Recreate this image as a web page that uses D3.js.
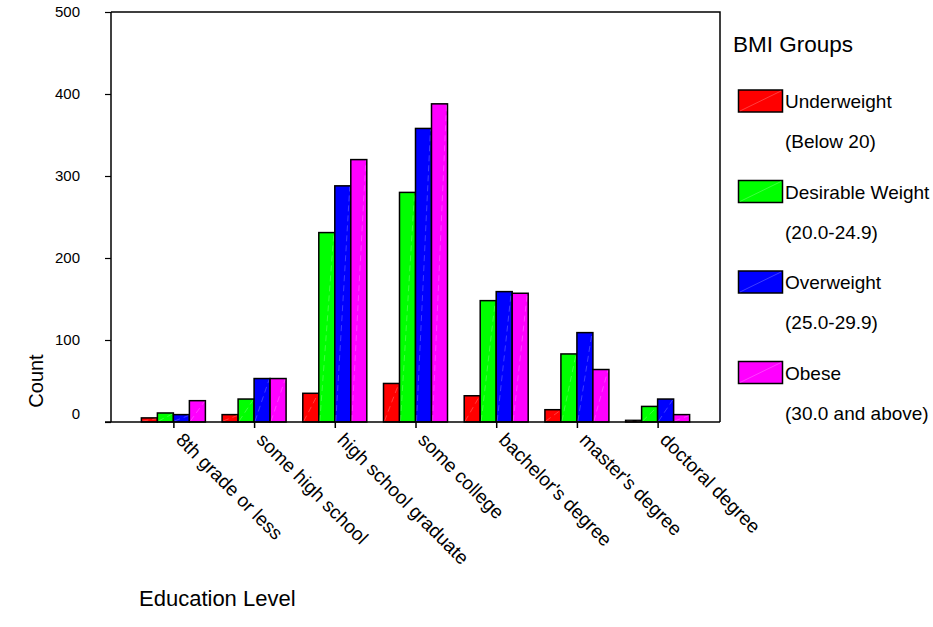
<!DOCTYPE html>
<html>
<head>
<meta charset="utf-8">
<script src="https://cdn.jsdelivr.net/npm/d3@7"></script>
<style>
  html, body { margin: 0; padding: 0; background: #fff; }
  svg { display: block; font-family: "Liberation Sans", Arial, sans-serif; }
</style>
</head>
<body>
<svg id="chart" width="933" height="627"></svg>
<script>
const categories = ["8th grade or less", "some high school", "high school graduate", "some college", "bachelor's degree", "master's degree", "doctoral degree"];
const seriesNames = ["Underweight", "Desirable Weight", "Overweight", "Obese"];
const seriesSub = ["(Below 20)", "(20.0-24.9)", "(25.0-29.9)", "(30.0 and above)"];
const underweight = [5, 9, 35, 47, 32, 15, 2];
const desirable = [11, 28, 231, 280, 148, 83, 19];
const overweight = [9, 53, 288, 358, 159, 109, 28];
const obese = [26, 53, 320, 388, 157, 64, 9];
const yTicks = [0, 100, 200, 300, 400, 500];
const colors = ["#ff0000", "#00ff00", "#0000ff", "#ff00ff"];

const series = [underweight, desirable, overweight, obese];
const svg = d3.select("#chart");

const pLeft = 111, pRight = 720, pTop = 12, pBottom = 422;
const y = d3.scaleLinear().domain([0, 500]).range([pBottom, pTop]);
const x = d3.scalePoint().domain(categories).range([pLeft, pRight]).padding(0.773);
const inner = d3.scaleBand().domain(d3.range(4)).range([-32, 32]);

// frame (top and right)
svg.append("path")
  .attr("d", `M${pLeft},${pTop}H${pRight}V${pBottom}`)
  .attr("fill", "none").attr("stroke", "#000").attr("stroke-width", 1.5);

// bars
const groups = svg.append("g").selectAll("g").data(categories).join("g")
  .attr("transform", d => `translate(${x(d)},0)`);
groups.each(function(cat, ci) {
  const g = d3.select(this);
  series.forEach((s, si) => {
    const x0 = inner(si), w = inner.bandwidth();
    const y0 = y(s[ci]);
    g.append("rect")
      .attr("x", x0).attr("y", y0).attr("width", w).attr("height", pBottom - y0)
      .attr("fill", colors[si]).attr("stroke", "#000").attr("stroke-width", 1.5);
    g.append("line")
      .attr("x1", x0 + 1).attr("y1", pBottom - 1).attr("x2", x0 + w - 1).attr("y2", y0 + 1)
      .attr("stroke", "#fff").attr("stroke-opacity", 0.3).attr("stroke-width", 0.8)
      .attr("stroke-dasharray", "6,4");
  });
});

// y axis
const yAxis = svg.append("g").attr("transform", `translate(${pLeft},0)`)
  .call(d3.axisLeft(y).tickValues(yTicks).tickSize(6).tickPadding(25));
yAxis.select(".domain").attr("stroke-width", 1.5).attr("d", `M0,${pTop}V${pBottom}`);
yAxis.selectAll(".tick line").attr("stroke-width", 1.2);
yAxis.selectAll(".tick text").attr("font-size", 15).attr("font-family", "Liberation Sans, Arial, sans-serif").attr("fill", "#000")
  .attr("y", d => d === 0 ? -8 : 0);

// x axis
const xAxis = svg.append("g").attr("transform", `translate(0,${pBottom})`)
  .call(d3.axisBottom(x).tickSize(6).tickSizeOuter(0));
xAxis.select(".domain").attr("stroke-width", 1.5).attr("d", `M${pLeft - 6},0H${pRight}`);
xAxis.selectAll(".tick line").attr("stroke-width", 1.5);
xAxis.selectAll(".tick text")
  .attr("font-size", 19).attr("font-family", "Liberation Sans, Arial, sans-serif").attr("fill", "#000")
  .attr("text-anchor", "start").attr("dy", 0).attr("y", 0)
  .attr("transform", "translate(1,19) rotate(45)");

// axis titles
svg.append("text").attr("transform", "translate(43,381) rotate(-90)")
  .attr("text-anchor", "middle").attr("font-size", 20).text("Count");
svg.append("text").attr("x", 139).attr("y", 606)
  .attr("font-size", 22).text("Education Level");

// legend
const lg = svg.append("g");
lg.append("text").attr("x", 733).attr("y", 52).attr("font-size", 22.5).text("BMI Groups");
seriesNames.forEach((name, i) => {
  const ty = 90 + i * 90.5;
  lg.append("rect").attr("x", 738.5).attr("y", ty).attr("width", 44).attr("height", 22)
    .attr("fill", colors[i]).attr("stroke", "#000").attr("stroke-width", 1.5);
  lg.append("line").attr("x1", 740).attr("y1", ty + 21).attr("x2", 781).attr("y2", ty + 1)
    .attr("stroke", "#fff").attr("stroke-opacity", 0.3).attr("stroke-width", 0.8);
  lg.append("text").attr("x", 785).attr("y", ty + 18).attr("font-size", 19).text(name);
  lg.append("text").attr("x", 785).attr("y", ty + 58).attr("font-size", 19).text(seriesSub[i]);
});
</script>
</body>
</html>
